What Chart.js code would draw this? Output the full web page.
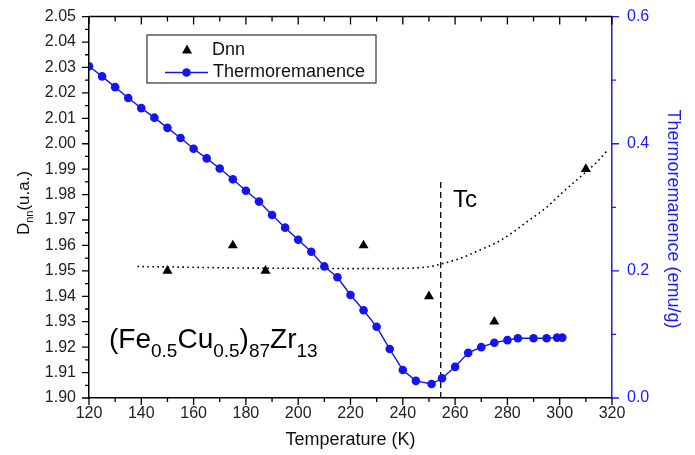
<!DOCTYPE html>
<html>
<head>
<meta charset="utf-8">
<script src="https://cdn.jsdelivr.net/npm/chart.js@4.4.1/dist/chart.umd.min.js"></script>
<style>
  body { margin: 0; background: #fff; }
  #wrap { width: 695px; height: 455px; }
</style>
</head>
<body>
<div id="wrap"><canvas id="myChart" width="695" height="455"></canvas></div>
<script>
// thermoremanence curve (right axis, emu/g)
const thermoT = [120, 125, 130, 135, 140, 145, 150, 155, 160, 165, 170, 175, 180, 185, 190, 195, 200, 205, 210, 215,
  220, 225, 230, 235, 240, 245, 251, 255, 260, 265, 270, 275, 280, 284, 290, 295, 299, 301];
const thermoV = [0.522, 0.506, 0.489, 0.472, 0.456, 0.441, 0.425, 0.409, 0.392, 0.377, 0.361, 0.344, 0.326, 0.309, 0.288, 0.268, 0.249, 0.230, 0.207, 0.190,
  0.162, 0.138, 0.112, 0.077, 0.044, 0.027, 0.022, 0.031, 0.049, 0.071, 0.080, 0.087, 0.091, 0.094, 0.094, 0.094, 0.095, 0.095];

// Dnn points (left axis)
const dnnT = [150, 175, 187.5, 225, 250, 275, 310];
const dnnV = [1.95, 1.96, 1.95, 1.96, 1.94, 1.93, 1.99];

// dotted guide curve through Dnn
const fitT = [138.5, 160, 180, 200, 220, 240, 250, 255, 263, 269, 276, 282, 288, 295, 301, 309, 314, 318];
const fitV = [1.9517, 1.9514, 1.9511, 1.9510, 1.9509, 1.9510, 1.9516, 1.9528, 1.9553, 1.9580, 1.9612, 1.9651, 1.9697, 1.9750, 1.9808, 1.9880, 1.9926, 1.9971];

// Curie temperature marker
const tcT = 254.5;
const tcRange = [1.90, 1.985];

const blue = '#1414f0';
const axisBlue = '#1a1aff';
const fontFamily = "'Liberation Sans', Arial, sans-serif";

const toPoints = (xs, ys) => xs.map((x, i) => ({x: x, y: ys[i]}));

const tickMarks = (ctx, scale, start, end, step, len, dir, color) => {
  ctx.strokeStyle = color;
  ctx.lineWidth = 1.3;
  ctx.beginPath();
  for (let v = start; v <= end + step / 1000; v += step) {
    let p = scale.getPixelForValue(v);
    if (scale.isHorizontal()) {
      let y0 = dir === 'down' ? scale.top : scale.chart.chartArea.top;
      ctx.moveTo(p, y0);
      ctx.lineTo(p, y0 + len);
    } else {
      let x0 = dir === 'left' ? scale.right : scale.left;
      ctx.moveTo(x0, p);
      ctx.lineTo(dir === 'left' ? x0 - len : x0 + len, p);
    }
  }
  ctx.stroke();
};

const drawRich = (ctx, parts, x, y) => {
  parts.forEach(part => {
    ctx.font = part[1] + 'px ' + fontFamily;
    ctx.fillText(part[0], x, y + part[2]);
    x += ctx.measureText(part[0]).width;
  });
};

const decorations = {
  id: 'decorations',
  afterDraw: (chart) => {
    const ctx = chart.ctx;
    const area = chart.chartArea;
    const x = chart.scales.x;
    const y = chart.scales.y;
    const y2 = chart.scales.y2;
    ctx.save();

    // top frame line
    ctx.strokeStyle = '#000';
    ctx.lineWidth = 1.5;
    ctx.beginPath();
    ctx.moveTo(area.left, area.top);
    ctx.lineTo(area.right, area.top);
    ctx.stroke();

    // tick marks
    tickMarks(ctx, x, 120, 320, 20, 7, 'down', '#000');
    tickMarks(ctx, x, 130, 310, 20, 4, 'down', '#000');
    tickMarks(ctx, x, 120, 320, 20, 8, 'inTop', '#000');
    tickMarks(ctx, x, 130, 310, 20, 5, 'inTop', '#000');
    tickMarks(ctx, y, 1.90, 2.05, 0.01, 7, 'left', '#000');
    tickMarks(ctx, y, 1.905, 2.045, 0.01, 4, 'left', '#000');
    tickMarks(ctx, y2, 0, 0.6, 0.2, 7, 'right', axisBlue);
    tickMarks(ctx, y2, 0.1, 0.5, 0.2, 4, 'right', axisBlue);

    // axis titles
    ctx.fillStyle = '#111';
    ctx.textBaseline = 'middle';
    ctx.textAlign = 'center';
    ctx.font = '18px ' + fontFamily;
    ctx.fillText('Temperature (K)', (area.left + area.right) / 2, 440);

    ctx.save();
    ctx.translate(673, 219);
    ctx.rotate(Math.PI / 2);
    ctx.fillStyle = axisBlue;
    ctx.fillText('Thermoremanence (emu/g)', 0, 0);
    ctx.restore();

    ctx.save();
    ctx.translate(23, 203);
    ctx.rotate(-Math.PI / 2);
    ctx.textAlign = 'left';
    ctx.textBaseline = 'alphabetic';
    ctx.font = '17px ' + fontFamily;
    let w1 = ctx.measureText('D').width;
    let w3 = ctx.measureText('(u.a.)').width;
    ctx.font = '11px ' + fontFamily;
    let w2 = ctx.measureText('nn').width;
    drawRich(ctx, [['D', 17, 0], ['nn', 11, 4], ['(u.a.)', 17, 0]], -(w1 + w2 + w3) / 2, 6);
    ctx.restore();

    // Tc label and composition
    ctx.textAlign = 'left';
    ctx.textBaseline = 'alphabetic';
    ctx.fillStyle = '#000';
    ctx.font = '24px ' + fontFamily;
    ctx.fillText('Tc', 453, 207);
    drawRich(ctx, [['(Fe', 28, 0], ['0.5', 19, 9], ['Cu', 28, 0], ['0.5', 19, 9], [')', 28, 0],
      ['87', 19, 9], ['Zr', 28, 0], ['13', 19, 9]], 109, 348);

    // legend
    ctx.fillStyle = '#fff';
    ctx.fillRect(147, 35, 229, 48);
    ctx.strokeStyle = '#333';
    ctx.lineWidth = 1.2;
    ctx.strokeRect(147, 35, 229, 48);
    ctx.fillStyle = '#000';
    ctx.beginPath();
    ctx.moveTo(187, 44.5);
    ctx.lineTo(192, 53.5);
    ctx.lineTo(182, 53.5);
    ctx.closePath();
    ctx.fill();
    ctx.strokeStyle = blue;
    ctx.lineWidth = 1.3;
    ctx.beginPath();
    ctx.moveTo(165, 72.5);
    ctx.lineTo(208, 72.5);
    ctx.stroke();
    ctx.fillStyle = blue;
    ctx.beginPath();
    ctx.arc(186.5, 72.5, 4.3, 0, Math.PI * 2);
    ctx.fill();
    ctx.fillStyle = '#111';
    ctx.textBaseline = 'middle';
    ctx.font = '18px ' + fontFamily;
    ctx.fillText('Dnn', 212, 50);
    ctx.fillText('Thermoremanence', 213, 72.5);

    ctx.restore();
  }
};

let myChart = document.getElementById('myChart').getContext('2d');

const renderGraph = () => {
  let displayChart = new Chart(myChart, {
    type: 'line',
    data: {
      datasets: [{
        label: 'Dnn',
        data: toPoints(dnnT, dnnV),
        yAxisID: 'y',
        showLine: false,
        pointStyle: 'triangle',
        pointRadius: 5.8,
        pointBorderWidth: 0,
        backgroundColor: '#000',
        borderColor: '#000'
      }, {
        label: 'Thermoremanence',
        data: toPoints(thermoT, thermoV),
        yAxisID: 'y2',
        borderColor: blue,
        backgroundColor: blue,
        borderWidth: 1.4,
        pointRadius: 4.3,
        pointBorderWidth: 0,
        tension: 0
      }, {
        label: 'fit',
        data: toPoints(fitT, fitV),
        yAxisID: 'y',
        borderColor: '#000',
        borderWidth: 1.6,
        borderDash: [1.6, 3.4],
        pointRadius: 0,
        cubicInterpolationMode: 'monotone'
      }, {
        label: 'Tc',
        data: toPoints([tcT, tcT], tcRange),
        yAxisID: 'y',
        borderColor: '#000',
        borderWidth: 1.3,
        borderDash: [6, 4],
        pointRadius: 0
      }]
    },
    options: {
      responsive: false,
      animation: false,
      layout: {padding: {top: 15}},
      plugins: {
        legend: {display: false},
        tooltip: {enabled: false}
      },
      scales: {
        x: {
          type: 'linear',
          min: 120,
          max: 320,
          grid: {display: false},
          border: {color: '#000', width: 1.5},
          ticks: {stepSize: 20, padding: -2, color: '#222', font: {size: 16, family: fontFamily}},
          afterFit: (s) => { s.height = 57; }
        },
        y: {
          position: 'left',
          min: 1.90,
          max: 2.05,
          grid: {display: false},
          border: {color: '#000', width: 1.5},
          ticks: {
            stepSize: 0.01,
            padding: 5,
            color: '#222',
            font: {size: 16, family: fontFamily},
            callback: (v) => v.toFixed(2)
          },
          afterFit: (s) => { s.width = 89; }
        },
        y2: {
          position: 'right',
          min: 0,
          max: 0.6,
          grid: {display: false},
          border: {color: axisBlue, width: 1.5},
          ticks: {
            stepSize: 0.2,
            padding: 7,
            color: axisBlue,
            font: {size: 16, family: fontFamily},
            callback: (v) => v.toFixed(1)
          },
          afterFit: (s) => { s.width = 83; }
        }
      }
    },
    plugins: [decorations]
  });
};

renderGraph();
</script>
</body>
</html>
